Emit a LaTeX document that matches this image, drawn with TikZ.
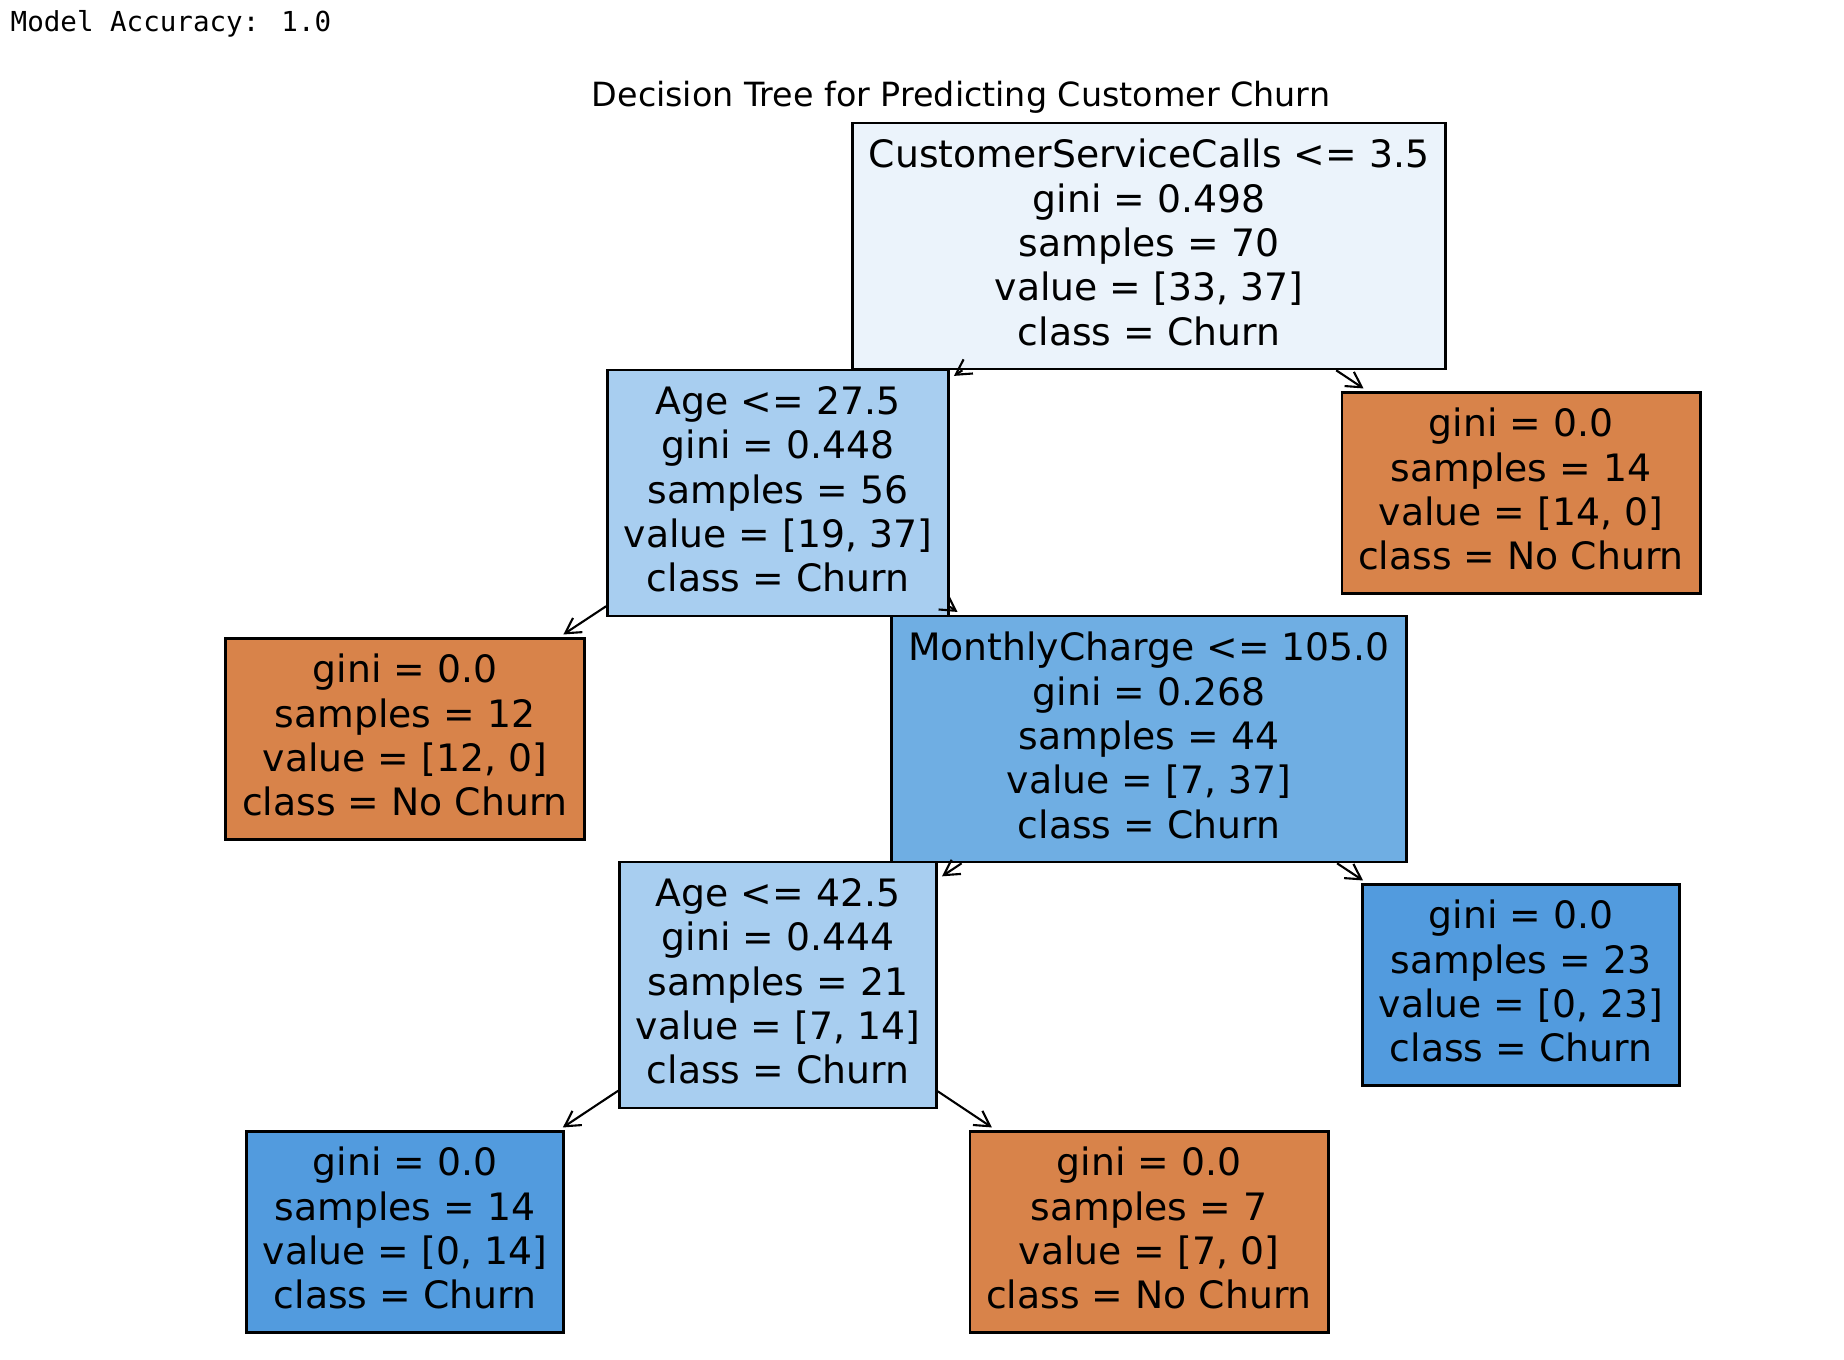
\documentclass[tikz,border=0pt]{standalone}
\usepackage{fontspec}
\usepackage{xcolor}
\usepackage{tikz}
\usetikzlibrary{arrows.meta}
\setmainfont{DejaVu Sans}
\newfontfamily\dejavu{DejaVu Sans}
\newfontfamily\dejavumono{DejaVu Sans Mono}
\definecolor{ink}{HTML}{000000}
\definecolor{churnA}{HTML}{EBF3FB}
\definecolor{churnB}{HTML}{A8CEF0}
\definecolor{churnC}{HTML}{6FAEE3}
\definecolor{churnD}{HTML}{529BDE}
\definecolor{nochurn}{HTML}{D8834A}
\tikzset{
  box/.style={draw=ink, line width=0.7pt, rectangle, align=center, inner xsep=0.165cm, inner ysep=0pt, text=ink, font={\dejavu\fontsize{10.73}{12.61}\selectfont}, execute at end node=\vphantom{g}},
  split/.style={box, minimum height=2.46cm},
  leaf/.style={box, minimum height=2.01cm},
  edge/.style={draw=ink, line width=0.6pt, -{Straight Barb[length=0.15cm,width=0.17cm]}, shorten >=0.05cm},
  ttl/.style={text=ink, inner sep=0pt, font={\dejavu\fontsize{9.48}{11}\selectfont}},
  acc/.style={text=ink, inner sep=0pt, font={\dejavumono\fontsize{7.83}{10}\selectfont}}
}

\begin{document}
\begin{tikzpicture}[x=0.01cm, y=-0.01cm]
  \useasboundingbox (0,0) rectangle (1844,1360);

  \node[acc, anchor=base west] (acc) at (10,31) {Model Accuracy: 1.0};
  \node[ttl, anchor=base] (ttl) at (961,106) {Decision Tree for Predicting Customer Churn};

  % splits
  \node[split, fill=churnA] (calls) at (1149,246) {CustomerServiceCalls <= 3.5\\gini = 0.498\\samples = 70\\value = [33, 37]\\class = Churn};
  \node[split, fill=churnB] (age1) at (778,493) {Age <= 27.5\\gini = 0.448\\samples = 56\\value = [19, 37]\\class = Churn};
  \node[split, fill=churnC] (charge) at (1149,739) {MonthlyCharge <= 105.0\\gini = 0.268\\samples = 44\\value = [7, 37]\\class = Churn};
  \node[split, fill=churnB] (age2) at (778,985) {Age <= 42.5\\gini = 0.444\\samples = 21\\value = [7, 14]\\class = Churn};

  % leaves
  \node[leaf, fill=nochurn] (L1) at (1521,493) {gini = 0.0\\samples = 14\\value = [14, 0]\\class = No Churn};
  \node[leaf, fill=nochurn] (L2) at (405,739) {gini = 0.0\\samples = 12\\value = [12, 0]\\class = No Churn};
  \node[leaf, fill=churnD] (L3) at (1521,985) {gini = 0.0\\samples = 23\\value = [0, 23]\\class = Churn};
  \node[leaf, fill=churnD] (L4) at (405,1232) {gini = 0.0\\samples = 14\\value = [0, 14]\\class = Churn};
  \node[leaf, fill=nochurn] (L5) at (1149,1232) {gini = 0.0\\samples = 7\\value = [7, 0]\\class = No Churn};

  \draw[edge] (calls) -- (age1);
  \draw[edge] (calls) -- (L1);
  \draw[edge] (age1) -- (L2);
  \draw[edge] (age1) -- (charge);
  \draw[edge] (charge) -- (age2);
  \draw[edge] (charge) -- (L3);
  \draw[edge] (age2) -- (L4);
  \draw[edge] (age2) -- (L5);
\end{tikzpicture}
\end{document}
